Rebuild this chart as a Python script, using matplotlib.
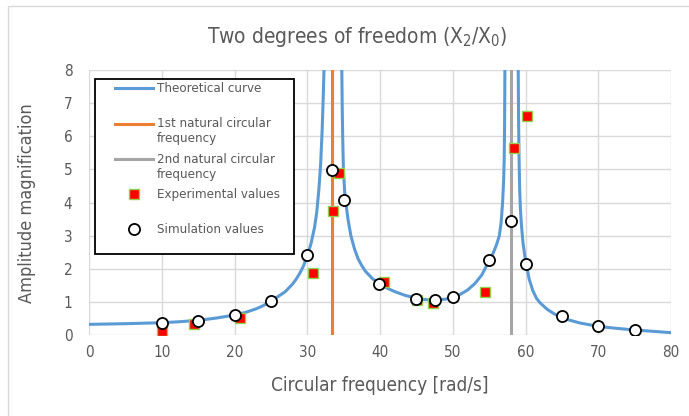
import numpy as np
import matplotlib
matplotlib.use("Agg")
from matplotlib import pyplot as plt, font_manager
from matplotlib.patches import Rectangle
from matplotlib.lines import Line2D
from matplotlib.legend_handler import HandlerLine2D
import matplotlib.transforms as mtransforms

nan = np.nan

# theoretical curve (nan breaks the branches at the resonances)
theo_x = [0, 5, 10, 12.5, 15, 17.5, 20, 21.5, 23, 24, 25, 26, 27, 28, 28.5, 29, 29.5, 30,
          30.5, 31, 31.3, 31.6, 31.85, 32.05, 32.2, 32.3, 32.4,
          nan,
          34.65, 34.75, 34.8, 34.87, 34.97, 35.15, 35.3, 35.6, 36, 36.5, 37, 37.5, 38, 39, 40,
          41, 42, 43.5, 45, 46, 47.5, 49, 50, 51, 52, 53, 54, 55, 55.5, 56, 56.4, 56.65,
          56.85, 57.0, 57.07, 57.12, 57.17, 57.22,
          nan,
          58.95, 59.0, 59.05, 59.1, 59.2, 59.3, 59.45, 59.65, 59.9, 60.15, 60.5, 61, 61.5,
          62, 63, 64, 65, 66, 67.5, 70, 72.5, 75, 77.5, 80]
theo_y = [0.33, 0.35, 0.38, 0.41, 0.45, 0.52, 0.61, 0.69, 0.8, 0.9, 1.04, 1.17, 1.32, 1.55,
          1.7, 1.88, 2.1, 2.4, 2.75, 3.25, 3.7, 4.4, 5.2, 6.2, 7.2, 8.0, 9.0,
          nan,
          9.5, 8.0, 7.0, 6.0, 5.0, 4.3, 4.0, 3.5, 3.0, 2.6, 2.3, 2.1, 1.93, 1.7, 1.55,
          1.42, 1.32, 1.2, 1.12, 1.08, 1.06, 1.09, 1.14, 1.23, 1.36, 1.55, 1.82, 2.25, 2.45,
          2.72, 3.0, 3.4, 4.0, 4.7, 5.3, 6.2, 8.0, 9.5,
          nan,
          9.5, 8.0, 6.5, 5.5, 4.4, 3.8, 3.3, 2.8, 2.4, 2.1, 1.7, 1.35, 1.12,
          0.98, 0.78, 0.64, 0.54, 0.46, 0.37, 0.27, 0.21, 0.16, 0.12, 0.08]

nat1 = 33.45
nat2 = 58.0

exp_x = [10, 14.5, 20.8, 30.8, 33.5, 34.3, 40.5, 45.1, 47.3, 54.4, 58.45, 60.15]
exp_y = [0.14, 0.33, 0.53, 1.88, 3.76, 4.9, 1.6, 1.05, 0.98, 1.31, 5.66, 6.6]

sim_x = [10, 15, 20, 25, 30, 33.4, 35, 39.8, 45, 47.5, 50, 55, 58, 60, 65, 70, 75]
sim_y = [0.38, 0.43, 0.61, 1.04, 2.43, 4.98, 4.07, 1.54, 1.10, 1.06, 1.14, 2.26, 3.44, 2.15, 0.59, 0.29, 0.17]

xticks = list(range(0, 81, 10))
yticks = list(range(0, 9))

# Tahoma-like look: DejaVu Sans Condensed if present
has_cond = any("DejaVuSansCondensed" in f.fname for f in font_manager.fontManager.ttflist)
plt.rcParams["font.family"] = ["DejaVu Sans"]
if has_cond:
    plt.rcParams["font.stretch"] = "condensed"
    k = 1.0
else:
    k = 0.9
plt.rcParams["mathtext.default"] = "regular"

grey = "#595959"


class RaisedLine(HandlerLine2D):
    # legend key lined up with the first row of a two-row label
    def __init__(self, dy, **kw):
        super().__init__(**kw)
        self.dy = dy

    def create_artists(self, legend, orig_handle, xdescent, ydescent, width, height,
                       fontsize, trans):
        arts = super().create_artists(legend, orig_handle, xdescent, ydescent, width,
                                      height, fontsize, trans)
        for a in arts:
            a.set_transform(mtransforms.Affine2D().translate(0, self.dy) + trans)
        return arts


fig = plt.figure(figsize=(6.89, 4.16), dpi=100)
ax = fig.add_axes([89/689, 1-335.3/416, 582/689, 265.3/416])

# every legend label gets two lines so the rows are evenly spaced like in Excel
ax.plot(theo_x, theo_y, color="#5B9BD5", lw=2.2, label="Theoretical curve\n ", zorder=3)
ax.axvline(nat1, color="#ED7D31", lw=2.2, label="1st natural circular\nfrequency", zorder=2)
ax.axvline(nat2, color="#A5A5A5", lw=2.2, label="2nd natural circular\nfrequency", zorder=2)
ax.plot(exp_x, exp_y, ls="none", marker="s", ms=7, mfc="red", mec="#92D050", mew=1,
        label="Experimental values\n ", zorder=4)
ax.plot(sim_x, sim_y, ls="none", marker="o", ms=8, mfc="white", mec="black", mew=1.3,
        label="Simulation values\n ", zorder=5)

ax.set_xlim(0, 80)
ax.set_ylim(0, 8)
ax.set_xticks(xticks)
ax.set_yticks(yticks)
ax.grid(color="#D9D9D9", lw=1)
ax.set_axisbelow(True)
for s in ax.spines.values():
    s.set_visible(False)
ax.tick_params(length=0, labelcolor=grey, labelsize=11*k)
ax.tick_params(axis="x", pad=7)
ax.tick_params(axis="y", pad=12)

ax.set_xlabel("Circular frequency [rad/s]", fontsize=13.6*k, color=grey, va="center")
ax.xaxis.set_label_coords(0.5, (335.3-385)/265.3)
ax.set_ylabel("Amplitude magnification", fontsize=13*k, color=grey, va="center")
ax.yaxis.set_label_coords((27-89)/582, 0.5)

fig.text(357/689, 1-37/416, "Two degrees of freedom (X$_2$/X$_0$)", ha="center", va="center",
         fontsize=15*k, color=grey)

# legend frame drawn separately (Excel puts extra space left of the keys)
frame = Rectangle((6/582, (335.3-254)/265.3), 199/582, 175/265.3, transform=ax.transAxes,
                  fc="white", ec="black", lw=1.3, zorder=6)
ax.add_patch(frame)
leg = ax.legend(loc="upper left", bbox_to_anchor=(26/582, 1-12/265.3), borderaxespad=0,
                frameon=False, fontsize=9.5*k, handlelength=2.9, handletextpad=0.3,
                labelspacing=0.55, borderpad=0, labelcolor=grey,
                handler_map={Line2D: RaisedLine(5.8)})
leg.set_zorder(7)

# chart area border
fig.add_artist(Rectangle((8/689, -0.05), 1.0, 1-6/416+0.05, transform=fig.transFigure,
                         fill=False, ec="#D9D9D9", lw=1))

fig.savefig("out.png", dpi=100)
